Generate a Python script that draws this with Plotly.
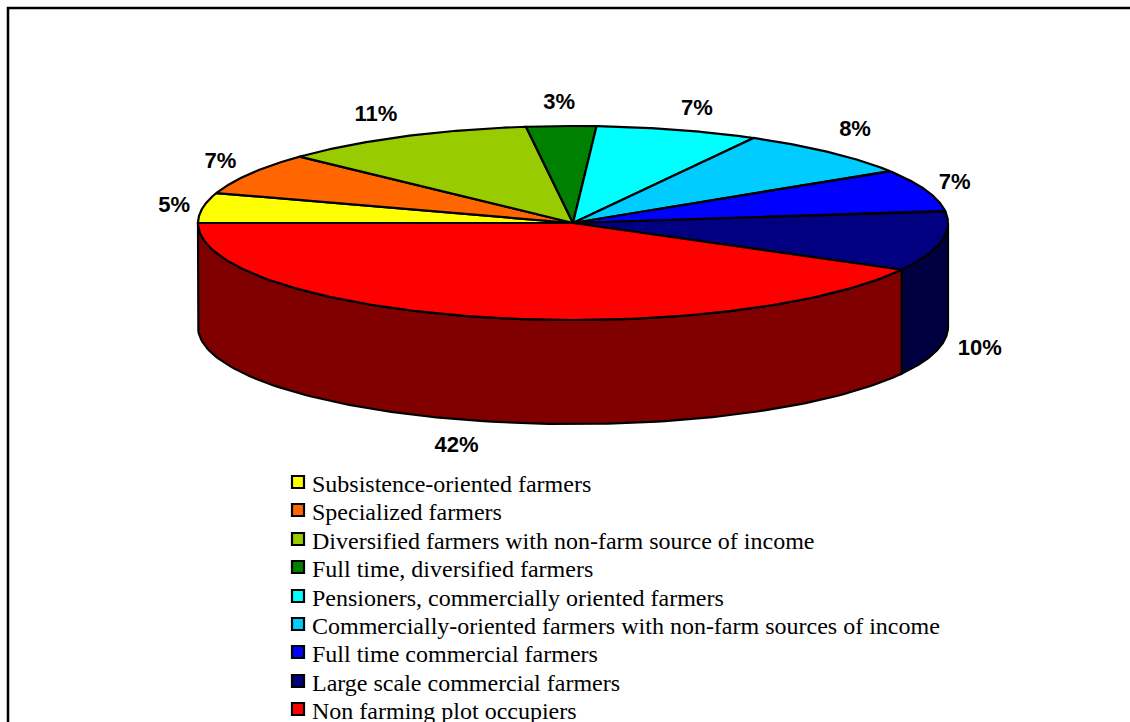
import numpy as np
import plotly.graph_objects as go

categories = ["Subsistence-oriented farmers", "Specialized farmers",
              "Diversified farmers with non-farm source of income",
              "Full time, diversified farmers",
              "Pensioners, commercially oriented farmers",
              "Commercially-oriented farmers with non-farm sources of income",
              "Full time commercial farmers", "Large scale commercial farmers",
              "Non farming plot occupiers"]
values = [5, 7, 11, 3, 7, 8, 7, 10, 42]
colors = ["#FFFF00", "#FF6600", "#99CC00", "#008000", "#00FFFF", "#00CCFF",
          "#0000FF", "#000080", "#FF0000"]
side_colors = ["#808000", "#803300", "#4D6600", "#004000", "#008080", "#006680",
               "#000080", "#000040", "#800000"]

# layout (pixel-like hidden axes)
W, H = 1130, 722
CX, CY, RX, RY, DEPTH = 573, 223, 375, 97, 104
LABEL_RX, LABEL_RY = 412, 122
label_nudge_x = [8, 2, -10, -1, 9, 0, -6, 2, -14]
label_nudge_y = [3, 2, 1, 2, 4, -4, 2, 0, 1]
legend_y = [482, 510, 539, 567, 596, 624, 652, 681, 709]
LEG_X, LEG_TX = 298, 312

def ell(t_deg, r_x=RX, r_y=RY, dy=0):
    t = np.radians(t_deg)
    return CX - r_x * np.cos(t), CY - r_y * np.sin(t) + dy

fig = go.Figure()
edge = dict(color="black", width=2.2)
total = sum(values)
bounds = np.concatenate([[0], np.cumsum(values)]) * 360.0 / total

# side walls (only the front half of the disc is seen)
for i, c in enumerate(categories):
    a, b = max(bounds[i], 180), bounds[i + 1]
    if b <= a:
        continue
    ts = np.linspace(a, b, 120)
    xt, yt = ell(ts)
    xb, yb = ell(ts[::-1], dy=DEPTH)
    fig.add_trace(go.Scatter(x=np.r_[xt, xb, xt[0]], y=np.r_[yt, yb, yt[0]], mode="lines",
                             fill="toself", fillcolor=side_colors[i], line=edge,
                             hoverinfo="skip", showlegend=False))
# top slices
for i, c in enumerate(categories):
    ts = np.linspace(bounds[i], bounds[i + 1], 120)
    xt, yt = ell(ts)
    fig.add_trace(go.Scatter(x=np.r_[CX, xt, CX], y=np.r_[CY, yt, CY], mode="lines",
                             fill="toself", fillcolor=colors[i], line=edge,
                             name=c, showlegend=False))
# percentage labels
mids = (bounds[:-1] + bounds[1:]) / 2
lx, ly = ell(mids, LABEL_RX, LABEL_RY)
ly = ly + np.where(np.sin(np.radians(mids)) < 0, DEPTH, 0)
fig.add_trace(go.Scatter(x=lx + np.array(label_nudge_x), y=ly + np.array(label_nudge_y), mode="text",
                         text=[f"{v}%" for v in values], textposition="middle center",
                         textfont=dict(family="Liberation Sans", size=22, color="black", weight=700),
                         hoverinfo="skip", showlegend=False))
# legend
fig.add_trace(go.Scatter(x=[LEG_X] * len(categories), y=legend_y, mode="markers",
                         marker=dict(symbol="square", size=12, color=colors,
                                     line=dict(color="black", width=2.2)),
                         hoverinfo="skip", showlegend=False))
fig.add_trace(go.Scatter(x=[LEG_TX] * len(categories), y=[v + 3.5 for v in legend_y], mode="text",
                         text=categories, textposition="middle right",
                         textfont=dict(family="Liberation Serif", size=24, color="black"),
                         hoverinfo="skip", showlegend=False))

fig.update_layout(width=W, height=H, margin=dict(l=0, r=0, t=0, b=0),
                  paper_bgcolor="white", plot_bgcolor="white", showlegend=False,
                  xaxis=dict(range=[0, W], visible=False, fixedrange=True),
                  yaxis=dict(range=[H, 0], visible=False, fixedrange=True),
                  shapes=[dict(type="rect", xref="x", yref="y", x0=8, y0=8, x1=W + 20, y1=H + 20,
                               line=dict(color="black", width=2.5), layer="below")])
fig.write_html("out.html", config={"displayModeBar": False},
               post_script="document.documentElement.style.overflow='hidden';document.body.style.margin='0';")
